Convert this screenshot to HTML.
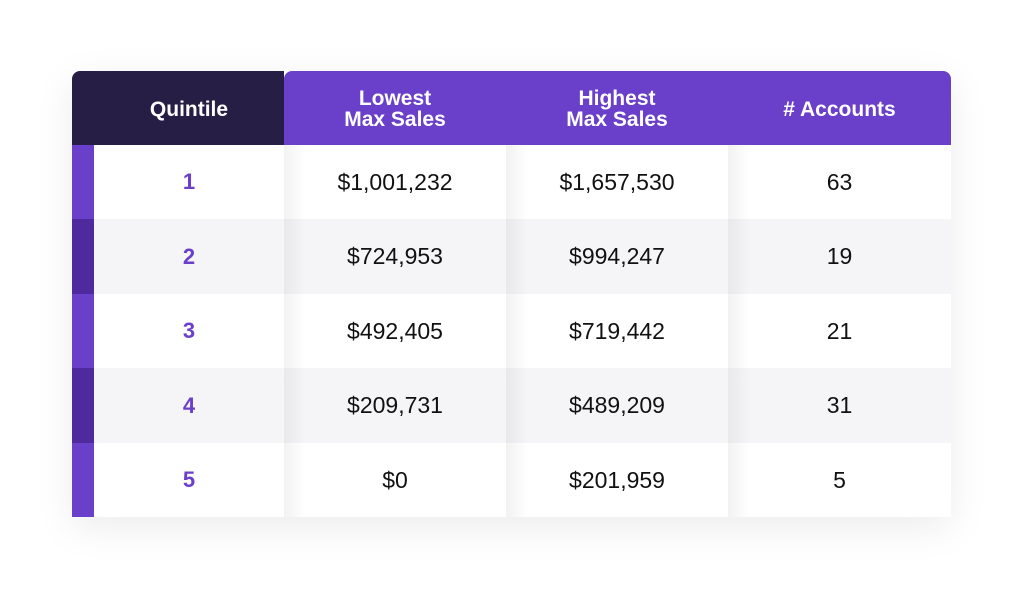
<!DOCTYPE html>
<html><head><style>
body{margin:0;width:1024px;height:590px;background:#fff;font-family:"Liberation Sans",sans-serif;position:relative;overflow:hidden}
.t{position:absolute;left:72px;top:71px;width:879px;height:446px;box-shadow:0 10px 40px rgba(0,0,0,0.08);border-radius:8px 8px 0 0}
.c{position:absolute;display:flex;align-items:center;justify-content:center;text-align:center}
.h{top:0;height:74px;color:#fff;font-weight:bold;font-size:21px;line-height:21px;padding-top:2px;box-sizing:border-box}
.r{font-size:23px;color:#111}
.q{color:#6a3fc9;font-weight:bold;font-size:22px}
.sh{position:absolute;top:74px;width:22px;height:372px;background:linear-gradient(to right,rgba(0,0,0,0.05),rgba(0,0,0,0))}
</style></head><body>
<div class="t">
<div class="c h" style="left:0;width:212px;background:#271e45;border-radius:8px 0 0 0"></div>
<div class="c h" style="left:22px;width:190px">Quintile</div>
<div class="c h" style="left:212px;width:667px;background:#6a3fc9;border-radius:8px 8px 0 0"></div>
<div class="c h" style="left:212px;width:222px">Lowest<br>Max Sales</div>
<div class="c h" style="left:434px;width:222px">Highest<br>Max Sales</div>
<div class="c h" style="left:656px;width:223px"># Accounts</div>
<div style="position:absolute;top:74px;left:0;width:879px;height:74px;background:#fff"></div>
<div style="position:absolute;top:148px;left:0;width:879px;height:75px;background:#f5f5f7"></div>
<div style="position:absolute;top:223px;left:0;width:879px;height:74px;background:#fff"></div>
<div style="position:absolute;top:297px;left:0;width:879px;height:75px;background:#f5f5f7"></div>
<div style="position:absolute;top:372px;left:0;width:879px;height:74px;background:#fff"></div>
<div style="position:absolute;top:74px;left:0;width:22px;height:74px;background:#6a3fc9"></div>
<div style="position:absolute;top:148px;left:0;width:22px;height:75px;background:#4f2a9e"></div>
<div style="position:absolute;top:223px;left:0;width:22px;height:74px;background:#6a3fc9"></div>
<div style="position:absolute;top:297px;left:0;width:22px;height:75px;background:#4f2a9e"></div>
<div style="position:absolute;top:372px;left:0;width:22px;height:74px;background:#6a3fc9"></div>
<div class="sh" style="left:212px"></div><div class="sh" style="left:434px"></div><div class="sh" style="left:656px"></div>
<div class="c q" style="left:22px;width:190px;top:74px;height:74px">1</div>
<div class="c q" style="left:22px;width:190px;top:148px;height:75px">2</div>
<div class="c q" style="left:22px;width:190px;top:223px;height:74px">3</div>
<div class="c q" style="left:22px;width:190px;top:297px;height:75px">4</div>
<div class="c q" style="left:22px;width:190px;top:372px;height:74px">5</div>
<div class="c r" style="left:212px;width:222px;top:74px;height:74px">$1,001,232</div>
<div class="c r" style="left:212px;width:222px;top:148px;height:75px">$724,953</div>
<div class="c r" style="left:212px;width:222px;top:223px;height:74px">$492,405</div>
<div class="c r" style="left:212px;width:222px;top:297px;height:75px">$209,731</div>
<div class="c r" style="left:212px;width:222px;top:372px;height:74px">$0</div>
<div class="c r" style="left:434px;width:222px;top:74px;height:74px">$1,657,530</div>
<div class="c r" style="left:434px;width:222px;top:148px;height:75px">$994,247</div>
<div class="c r" style="left:434px;width:222px;top:223px;height:74px">$719,442</div>
<div class="c r" style="left:434px;width:222px;top:297px;height:75px">$489,209</div>
<div class="c r" style="left:434px;width:222px;top:372px;height:74px">$201,959</div>
<div class="c r" style="left:656px;width:223px;top:74px;height:74px">63</div>
<div class="c r" style="left:656px;width:223px;top:148px;height:75px">19</div>
<div class="c r" style="left:656px;width:223px;top:223px;height:74px">21</div>
<div class="c r" style="left:656px;width:223px;top:297px;height:75px">31</div>
<div class="c r" style="left:656px;width:223px;top:372px;height:74px">5</div>
</div>
</body></html>
